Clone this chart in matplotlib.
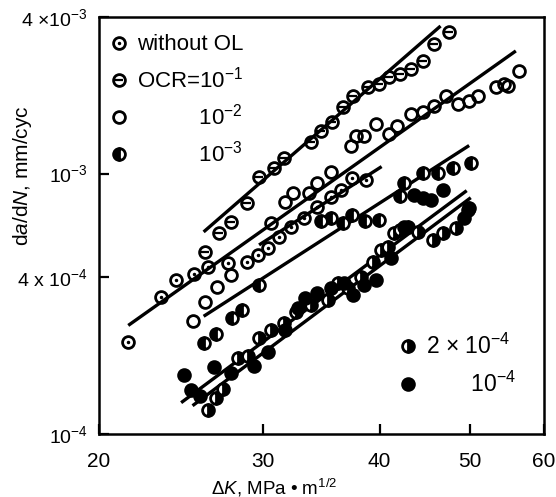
import matplotlib
matplotlib.use('Agg')
import matplotlib.pyplot as plt
from matplotlib.lines import Line2D
from matplotlib.ticker import FixedLocator, FixedFormatter, NullLocator

plt.rcParams['font.family'] = ['Liberation Sans', 'DejaVu Sans']
plt.rcParams['mathtext.fontset'] = 'custom'
plt.rcParams['mathtext.rm'] = 'Liberation Sans'
plt.rcParams['mathtext.it'] = 'Liberation Sans:italic'
plt.rcParams['mathtext.bf'] = 'Liberation Sans:bold'

# --- data (dK in MPa m^1/2, da/dN in mm/cyc) ---
# without overload (dotted circles)
woOL_dk = [21.5, 23.3, 24.2, 25.3, 26.2, 27.5, 28.8, 29.6, 30.4, 31.2, 32.1, 33.2,
           34.3, 35.5, 36.4, 37.4, 38.7]
woOL_da = [2.25e-4, 3.35e-4, 3.90e-4, 4.11e-4, 4.38e-4, 4.53e-4, 4.57e-4, 4.87e-4,
           5.18e-4, 5.71e-4, 6.24e-4, 6.76e-4, 7.46e-4, 8.15e-4, 8.67e-4, 9.65e-4, 9.48e-4]

# OCR = 1e-1
ocr1_dk = [26.0, 26.9, 27.7, 28.8, 29.7, 30.8, 31.6, 33.8, 34.6, 35.6, 36.5, 37.5,
           38.9, 39.9, 40.9, 42.1, 43.2, 44.5, 45.7, 47.5]
ocr1_da = [5.0e-4, 5.92e-4, 6.53e-4, 7.73e-4, 9.73e-4, 1.055e-3, 1.153e-3, 1.318e-3,
           1.452e-3, 1.574e-3, 1.798e-3, 1.982e-3, 2.147e-3, 2.205e-3, 2.346e-3,
           2.41e-3, 2.52e-3, 2.71e-3, 3.15e-3, 3.50e-3]

# OCR = 1e-2 (open circles)
ocr2_dk = [25.2, 26.0, 26.8, 27.7, 30.6, 31.7, 32.3, 33.6, 34.3, 35.5, 37.3, 37.7,
           38.5, 39.6, 40.9, 41.8, 43.2, 44.5, 45.7, 47.1, 48.6, 49.9, 51.0, 53.3,
           54.4, 54.9, 56.4]
ocr2_da = [2.71e-4, 3.21e-4, 3.66e-4, 4.07e-4, 6.47e-4, 7.80e-4, 8.44e-4, 8.44e-4,
           9.23e-4, 1.018e-3, 1.271e-3, 1.389e-3, 1.389e-3, 1.545e-3, 1.414e-3,
           1.518e-3, 1.689e-3, 1.719e-3, 1.814e-3, 1.982e-3, 1.846e-3, 1.896e-3,
           1.982e-3, 2.147e-3, 2.205e-3, 2.166e-3, 2.475e-3]

# OCR = 1e-3 (half filled)
ocr3_dk = [25.9, 26.7, 27.8, 28.5, 29.7, 34.6, 35.5, 36.5, 37.4, 38.6, 39.9, 42.1,
           42.5, 44.5, 46.2, 48.0, 50.1]
ocr3_da = [2.23e-4, 2.43e-4, 2.78e-4, 2.99e-4, 3.73e-4, 6.58e-4, 6.76e-4, 6.47e-4,
           6.95e-4, 6.58e-4, 6.64e-4, 8.22e-4, 9.23e-4, 1.009e-3, 1.009e-3, 1.055e-3,
           1.103e-3]

# OCR = 2e-4
ocr24_dk = [26.2, 26.7, 27.2, 28.2, 28.9, 29.7, 30.6, 31.6, 32.5, 33.8, 35.2, 36.1,
            37.0, 38.2, 39.4, 40.1, 40.8, 41.4, 42.1, 42.9, 44.0, 45.6, 46.8, 48.3, 49.9]
ocr24_da = [1.23e-4, 1.37e-4, 1.49e-4, 1.95e-4, 2.00e-4, 2.33e-4, 2.50e-4, 2.66e-4,
            2.93e-4, 3.12e-4, 3.26e-4, 3.80e-4, 3.63e-4, 4.00e-4, 4.57e-4, 5.09e-4,
            5.23e-4, 5.92e-4, 6.08e-4, 6.24e-4, 5.97e-4, 5.56e-4, 5.92e-4, 6.18e-4, 7.39e-4]

# OCR = 1e-4 (filled)
ocr4_dk = [24.7, 25.1, 25.7, 26.6, 27.7, 29.3, 30.4, 31.7, 32.7, 33.3, 34.3, 35.5,
           36.6, 37.5, 38.5, 39.6, 41.1, 42.5, 43.5, 44.5, 45.4, 46.8, 49.3, 49.7]
ocr4_da = [1.68e-4, 1.47e-4, 1.40e-4, 1.80e-4, 1.72e-4, 1.83e-4, 2.06e-4, 2.50e-4,
           3.04e-4, 3.32e-4, 3.47e-4, 3.63e-4, 3.80e-4, 3.41e-4, 3.73e-4, 3.90e-4,
           4.74e-4, 6.24e-4, 8.30e-4, 8.08e-4, 7.94e-4, 8.67e-4, 6.76e-4, 7.26e-4]

# fitted straight lines (end points)
fit_ocr1 = ([25.9, 46.5], [5.97e-4, 3.69e-3])
fit_ocr2 = ([21.5, 56.0], [2.61e-4, 2.96e-3])
fit_woOL = ([29.7, 40.2], [5.32e-4, 1.064e-3])
fit_ocr3 = ([25.9, 49.9], [2.83e-4, 1.282e-3])
fit_ocr24 = ([24.5, 49.6], [1.318e-4, 8.60e-4])
fit_ocr4 = ([25.2, 50.1], [1.283e-4, 8.08e-4])

xticks = [20, 30, 40, 50, 60]
xticklabels = ['20', '30', '40', '50', '60']
yticks = [1e-4, 4e-4, 1e-3, 4e-3]
yticklabels = ['10$^{-4}$', '4 x 10$^{-4}$', '10$^{-3}$', '4 $\\times$10$^{-3}$']

# --- drawing ---
MS = 8.5
MEW = 2.0

fig = plt.figure(figsize=(5.56, 4.97), dpi=100)
ax = fig.add_axes([0.178, 0.127, 0.800, 0.839])
ax.set_xscale('log')
ax.set_yscale('log')

for fx, fy in [fit_ocr1, fit_ocr2, fit_woOL, fit_ocr3, fit_ocr24, fit_ocr4]:
    ax.plot(fx, fy, color='black', lw=2.4, solid_capstyle='butt', zorder=2)

open_kw = dict(ls='none', marker='o', ms=MS, mfc='none', mec='black', mew=MEW, zorder=3)

ax.plot(woOL_dk, woOL_da, **open_kw)
ax.plot(woOL_dk, woOL_da, ls='none', marker='.', ms=3, color='black', zorder=4)

ax.plot(ocr1_dk, ocr1_da, **open_kw)
ax.plot(ocr1_dk, ocr1_da, ls='none', marker='_', ms=6, mew=1.6, color='black', zorder=4)

ax.plot(ocr2_dk, ocr2_da, **open_kw)

ax.plot(ocr3_dk, ocr3_da, ls='none', marker='o', ms=MS, fillstyle='left',
        mfc='black', mfcalt='white', mec='black', mew=MEW, zorder=3)

ax.plot(ocr24_dk, ocr24_da, ls='none', marker='o', ms=MS, fillstyle='right',
        mfc='black', mfcalt='white', mec='black', mew=MEW, zorder=3)

ax.plot(ocr4_dk, ocr4_da, ls='none', marker='o', ms=MS, mfc='black', mec='black',
        mew=MEW, zorder=3)

ax.set_xlim(20, 60)
ax.set_ylim(1e-4, 4e-3)
ax.xaxis.set_major_locator(FixedLocator(xticks))
ax.xaxis.set_major_formatter(FixedFormatter(xticklabels))
ax.xaxis.set_minor_locator(NullLocator())
ax.yaxis.set_major_locator(FixedLocator(yticks))
ax.yaxis.set_major_formatter(FixedFormatter(yticklabels))
ax.yaxis.set_minor_locator(NullLocator())
ax.tick_params(direction='in', length=7, width=1.6)
ax.tick_params(axis='x', labelsize=15, pad=13)
ax.tick_params(axis='y', labelsize=14, pad=8)

for sp in ax.spines.values():
    sp.set_linewidth(1.8)

ax.set_xlabel('Δ$\\mathit{K}$, MPa • m$^{1/2}$', fontsize=13.5)
ax.xaxis.set_label_coords(0.395, -0.102)
ax.set_ylabel('d$\\mathit{a}$/d$\\mathit{N}$, mm/cyc', fontsize=15)
ax.yaxis.set_label_coords(-0.145, 0.62)

# legends
def h_open():
    return Line2D([], [], **open_kw)

leg_handles1 = [
    (h_open(), Line2D([], [], ls='none', marker='.', ms=3, color='black')),
    (h_open(), Line2D([], [], ls='none', marker='_', ms=6, mew=1.6, color='black')),
    h_open(),
    Line2D([], [], ls='none', marker='o', ms=MS, fillstyle='left', mfc='black',
           mfcalt='white', mec='black', mew=MEW),
]
leg_labels1 = ['without OL', 'OCR=10$^{-1}$', '          10$^{-2}$', '          10$^{-3}$']
leg1 = ax.legend(leg_handles1, leg_labels1, loc='upper left', bbox_to_anchor=(0.0245, 0.958),
                 frameon=False, fontsize=16, handlelength=0.8, handletextpad=0.4,
                 labelspacing=0.5, borderaxespad=0, borderpad=0)
ax.add_artist(leg1)

leg_handles2 = [
    Line2D([], [], ls='none', marker='o', ms=MS, fillstyle='right', mfc='black',
           mfcalt='white', mec='black', mew=MEW),
    Line2D([], [], ls='none', marker='o', ms=MS, mfc='black', mec='black', mew=MEW),
]
leg_labels2 = ['2 × 10$^{-4}$', '       10$^{-4}$']
ax.legend(leg_handles2, leg_labels2, loc='upper left', bbox_to_anchor=(0.6745, 0.24),
          frameon=False, fontsize=16.5, handlelength=0.8, handletextpad=0.4,
          labelspacing=0.55, borderaxespad=0, borderpad=0)

fig.savefig('out.png', dpi=100)
